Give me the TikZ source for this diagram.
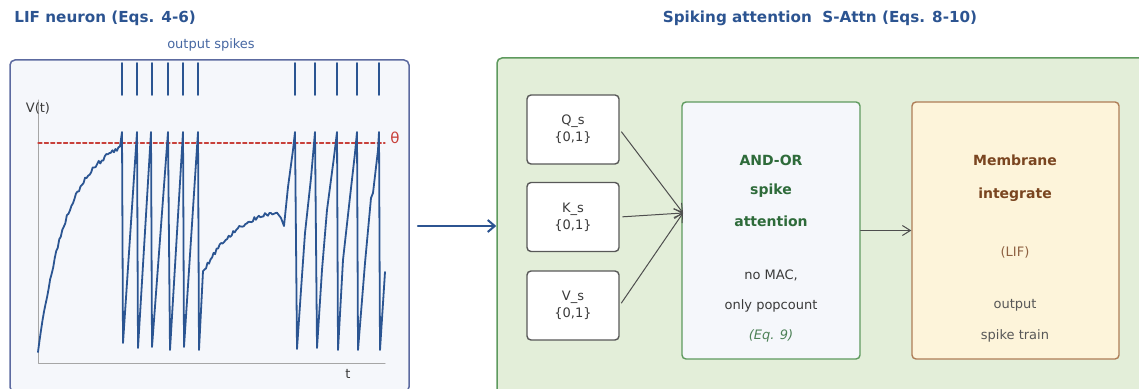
\documentclass[tikz,border=0pt]{standalone}
\usepackage{fontspec}
\setmainfont{DejaVu Sans}
\usetikzlibrary{arrows.meta}
\definecolor{navy}{HTML}{2C5491}
\definecolor{spikeblue}{HTML}{2B5592}
\definecolor{lblue}{HTML}{4667A2}
\definecolor{panelfill}{HTML}{F5F7FB}
\definecolor{panelrim}{HTML}{5C6AA0}
\definecolor{sage}{HTML}{E3EED9}
\definecolor{sagerim}{HTML}{5E9A5E}
\definecolor{leaf}{HTML}{2E6B3A}
\definecolor{cream}{HTML}{FDF4DA}
\definecolor{clay}{HTML}{AE7D56}
\definecolor{umber}{HTML}{7A4520}
\definecolor{ink}{HTML}{3A3A3A}
\definecolor{thetared}{HTML}{C8403A}
\begin{document}
\begin{tikzpicture}[x=.5pt,y=-.5pt,line join=round,line cap=round,
	ttl/.style={font=\fontsize{7.6}{9}\selectfont\bfseries,text=navy,inner sep=0pt},
	txt/.style={font=\fontsize{6.5}{8}\selectfont,inner sep=0pt},
	hd/.style={font=\fontsize{7}{8}\selectfont\bfseries,inner sep=0pt},
	bitbox/.style={draw=ink!85,fill=white,rounded corners=2pt,line width=.7pt,minimum width=46pt,minimum height=34.5pt,align=center,font=\fontsize{6.5}{8.5}\selectfont,text=ink,inner sep=0pt},
	conn/.style={draw=ink!90,line width=.5pt,-{Straight Barb[length=4pt,width=5pt]}},
	trace/.style={spikeblue,line width=.9pt},
	spk/.style={spikeblue,line width=.9pt}]
	\useasboundingbox (0,0) rectangle (1139,389);
	\clip (0,0) rectangle (1139,389);
	% titles
	\node[ttl,anchor=west] (ltitle) at (14,18) {LIF neuron (Eqs. 4-6)};
	\node[ttl] (rtitle) at (820,18) {Spiking attention\ \ S-Attn (Eqs. 8-10)};
	% panels
	\node[draw=panelrim,fill=panelfill,line width=.75pt,rounded corners=2.5pt,minimum width=199.5pt,minimum height=166pt] (lif) at (209.5,226) {};
	\node[draw=sagerim,fill=sage,line width=.75pt,rounded corners=2.5pt,minimum width=326.5pt,minimum height=168pt] (att) at (823.5,226) {};
	\node[txt,text=lblue] (outsp) at (211,45) {output spikes};
	% membrane potential plot
	\draw[black!35,line width=.5pt] (38,100) -- (38,363) -- (385,363);
	\node[txt,text=ink] (vt) at (38,108) {V(t)};
	\node[txt,text=ink] (tax) at (348,374) {t};
	\draw[thetared,line width=.6pt,dash pattern=on 2pt off 1.2pt] (38,143) -- (385,143);
	\node[txt,text=thetared,font=\fontsize{7.5}{9}\selectfont] (theta) at (395,138) {θ};
	\foreach \s in {122,137,152,168,183,198,295,315,337,357,379}
	\draw[spk] (\s,63) -- (\s,95);
	\pgfmathsetseed{11}
	\draw[trace] plot[domain=38:120,samples=55] (\x,{352-218*(1-exp(-(\x-38)/30))+2.5*rand})
		-- (122,132) -- (123,343) -- (137,132) -- (138,348) -- (151,132) -- (152,347)
		-- (168,132) -- (170,350) -- (183,132) -- (184,347) -- (198,132) -- (199,350)
		-- plot[domain=203:277,samples=50] (\x,{273-70*(1-exp(-(\x-203)/35))+2*rand})
		-- (281,218) -- (284,226) -- (288,187) -- (293,150) -- (295,132)
		-- (297,349) -- (301,290) -- (305,233) -- (311,178) -- (315,132)
		-- (317,348) -- (322,270) -- (327,210) -- (334,157) -- (337,132)
		-- (338,350) -- (343,260) -- (350,197) -- (355,153) -- (357,132)
		-- (358,350) -- (365,263) -- (371,198) -- (373,193) -- (378,150) -- (379,132)
		-- (380,350) -- (385,272);
	% spiking attention
	\node[bitbox] (qs) at (573,129.5) {Q\_s\\\{0,1\}};
	\node[bitbox] (ks) at (573,217) {K\_s\\\{0,1\}};
	\node[bitbox] (vs) at (573,305.5) {V\_s\\\{0,1\}};
	\node[draw=sagerim,fill=panelfill,line width=.7pt,rounded corners=2pt,minimum width=89pt,minimum height=128.5pt] (andor) at (771,230.5) {};
	\node[draw=clay,fill=cream,line width=.7pt,rounded corners=2pt,minimum width=103.5pt,minimum height=128.5pt] (lifbox) at (1015.5,230.5) {};
	\coordinate (hub) at (683,213);
	\foreach \i in {qs,ks,vs}
	\draw[conn,shorten <=1.5pt] (\i.east) -- (hub);
	\draw[conn] (andor.east) -- (lifbox.west);
	\draw[navy,line width=1pt,shorten <=4pt,-{Straight Barb[length=3.5pt,width=6pt]}] (lif.east) -- (att.west);
	\node[hd,text=leaf] (a1) at (771,160) {AND-OR};
	\node[hd,text=leaf] (a2) at (771,191) {spike};
	\node[hd,text=leaf] (a3) at (771,221) {attention};
	\node[txt,text=ink] (a4) at (771,275) {no MAC,};
	\node[txt,text=ink] (a5) at (771,306) {only popcount};
	\node[txt,text=leaf!85,font=\fontsize{6.5}{8}\selectfont\itshape] (a6) at (771,336) {(Eq. 9)};
	\node[hd,text=umber] (m1) at (1015,160) {Membrane};
	\node[hd,text=umber] (m2) at (1015,195) {integrate};
	\node[txt,text=umber!85] (m3) at (1015,252) {(LIF)};
	\node[txt,text=ink!85] (m4) at (1015,305) {output};
	\node[txt,text=ink!85] (m5) at (1015,336) {spike train};
\end{tikzpicture}
\end{document}
